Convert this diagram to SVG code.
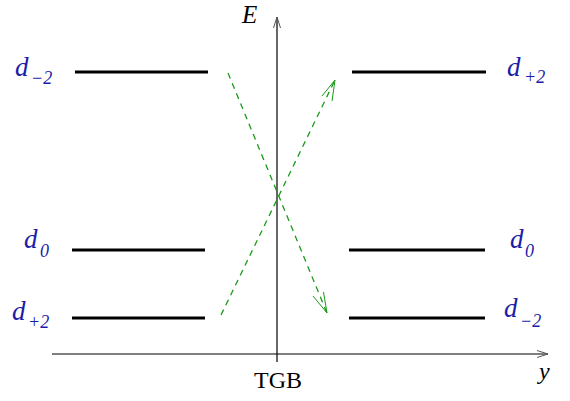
<svg xmlns="http://www.w3.org/2000/svg" width="570" height="401" viewBox="0 0 570 401">
<defs>
<style>
.lvl{stroke:#000;stroke-width:3;fill:none}
.ax{stroke:#000;stroke-width:1.2;fill:none}
.ah{stroke:#555;stroke-width:1;fill:none}
.tr{stroke:#1a9a1a;stroke-width:1.3;stroke-dasharray:6,5;fill:none}
.trh{stroke:#1a9a1a;stroke-width:1;fill:none}
.lab{font-family:"Liberation Serif",serif;font-style:italic;fill:#1c1ca8;font-size:27px}
.sub{font-family:"Liberation Serif",serif;font-style:italic;fill:#1c1ca8;font-size:18px}
.axl{font-family:"Liberation Serif",serif;fill:#000}
</style>
</defs>
<g id="axes">
<line class="ax" x1="277" y1="17" x2="277" y2="362"/>
<path class="ah" d="M273.5,28 L277,17 L280.5,28"/>
<line class="ax" x1="52" y1="354" x2="548" y2="354"/>
<path class="ah" d="M537,350.5 L548,354 L537,357.5"/>
<text class="axl" x="242" y="23" font-size="25" font-style="italic">E</text>
<text class="axl" x="539" y="379" font-size="24" font-style="italic">y</text>
<text class="axl" x="278" y="388" font-size="24" text-anchor="middle">TGB</text>
</g>
<g id="left-dm2">
<line class="lvl" x1="75" y1="72" x2="208" y2="72"/>
<text class="lab" x="15" y="76">d</text><text class="sub" x="31" y="84">−2</text>
</g>
<g id="left-d0">
<line class="lvl" x1="72" y1="250" x2="205" y2="250"/>
<text class="lab" x="24" y="248">d</text><text class="sub" x="40" y="257">0</text>
</g>
<g id="left-dp2">
<line class="lvl" x1="72" y1="318" x2="205" y2="318"/>
<text class="lab" x="12" y="320">d</text><text class="sub" x="28" y="328">+2</text>
</g>
<g id="right-dp2">
<line class="lvl" x1="352" y1="72" x2="486" y2="72"/>
<text class="lab" x="507" y="76">d</text><text class="sub" x="524" y="83">+2</text>
</g>
<g id="right-d0">
<line class="lvl" x1="349" y1="250" x2="485" y2="250"/>
<text class="lab" x="510" y="248">d</text><text class="sub" x="525" y="257">0</text>
</g>
<g id="right-dm2">
<line class="lvl" x1="349" y1="318" x2="485" y2="318"/>
<text class="lab" x="504" y="317">d</text><text class="sub" x="520" y="327">−2</text>
</g>
<g id="connectors">
<line class="tr" x1="228" y1="73" x2="327" y2="313"/>
<path class="trh" d="M313,296 L327,313 L323.5,292"/>
<line class="tr" x1="221" y1="315" x2="335" y2="80"/>
<path class="trh" d="M322,96 L335,80 L332,101"/>
</g>
</svg>
